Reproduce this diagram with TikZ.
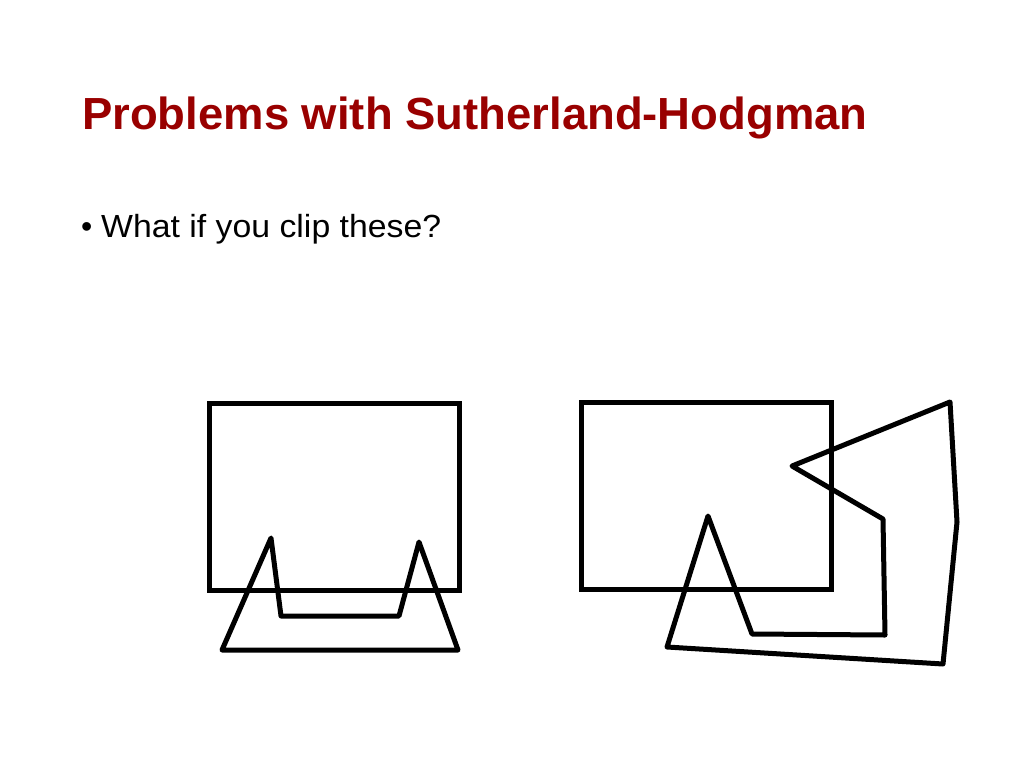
\documentclass[tikz,border=0pt]{standalone}
\usepackage{fontspec}
\setmainfont{Liberation Sans}
\definecolor{titlered}{RGB}{153,0,0}
\begin{document}
\begin{tikzpicture}[x=1pt,y=-1pt,
  shape line/.style={draw=black,line width=5pt,line join=round},
  rect line/.style={draw=black,line width=5pt,line join=miter},
  txt/.style={inner sep=0pt,anchor=base west}]
\useasboundingbox[fill=white] (0,0) rectangle (1024,768);
\node[txt,text=titlered,font=\fontsize{45}{54}\selectfont\bfseries,xscale=1.01] (title) at (82,129) {Problems with Sutherland-Hodgman};
\node[txt,font=\fontsize{32}{38}\selectfont] (bullet) at (81,237) {\textbullet};
\node[txt,font=\fontsize{32}{38}\selectfont,xscale=1.056] (item) at (101,237) {What if you clip these?};
% left example
\draw[rect line] (209,403) rectangle (459,590);
\draw[shape line] (222,650) -- (271,538) -- (281,616) -- (399,616) -- (419,542) -- (458,650) -- cycle;
% right example
\draw[rect line] (581,402) rectangle (831,589);
\draw[shape line] (708,516) -- (752,634) -- (885,635) -- (883,519) -- (792,466) -- (950,402) -- (957,522) -- (943,664) -- (667,647) -- cycle;
\end{tikzpicture}
\end{document}
